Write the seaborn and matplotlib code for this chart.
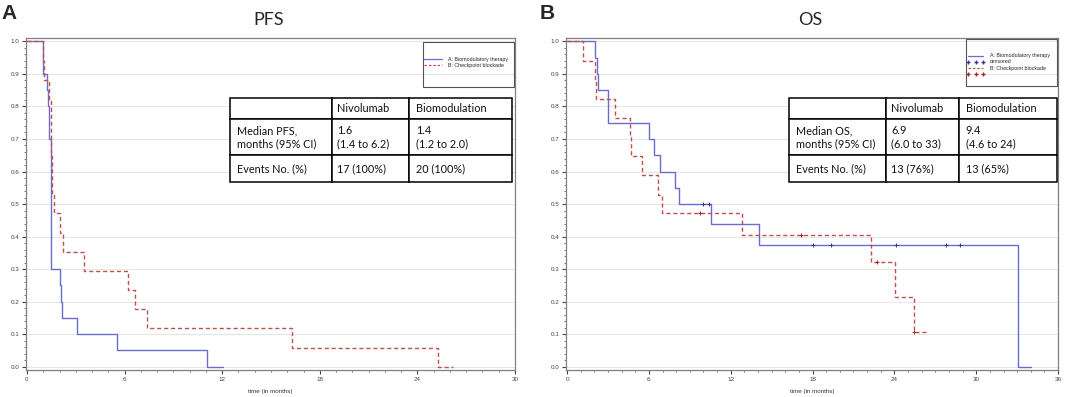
import numpy as np
import pandas as pd
import matplotlib
matplotlib.use('Agg')
import matplotlib.pyplot as plt
from matplotlib.lines import Line2D
from matplotlib.patches import Rectangle
from matplotlib.ticker import MultipleLocator
import seaborn as sns

# ---- data ----
# PFS, A: biomodulatory therapy (blue)
pfs_a_time = [0, 1.0, 1.22, 1.28, 1.33, 1.37, 1.45, 2.03, 2.08, 2.13, 3.05, 5.55, 11.05, 12.05]
pfs_a_surv = [1.0, 0.9, 0.85, 0.8, 0.75, 0.7, 0.3, 0.25, 0.2, 0.15, 0.1, 0.05, 0.0, 0.0]
# PFS, B: checkpoint blockade (red)
pfs_b_time = [0, 1.0, 1.05, 1.38, 1.45, 1.48, 1.5, 1.52, 1.56, 1.68, 2.0, 2.2, 3.5,
              6.2, 6.65, 7.35, 16.3, 25.25, 26.2]
pfs_b_surv = [1.0, 0.941, 0.882, 0.824, 0.765, 0.706, 0.647, 0.588, 0.529, 0.471, 0.412,
              0.353, 0.294, 0.235, 0.176, 0.118, 0.059, 0.0, 0.0]

# OS, A (blue)
os_a_time = [0, 2.08, 2.17, 2.24, 3.03, 6.03, 6.35, 6.81, 7.91, 8.23, 10.55, 14.08, 33.04, 34.0]
os_a_surv = [1.0, 0.95, 0.9, 0.85, 0.75, 0.7, 0.65, 0.6, 0.55, 0.5, 0.4375, 0.375, 0.0, 0.0]
os_a_cens_time = [9.94, 10.38, 18.0, 19.35, 24.12, 27.77, 28.8]
os_a_cens_surv = [0.5, 0.5, 0.375, 0.375, 0.375, 0.375, 0.375]
# OS, B (red)
os_b_time = [0, 1.15, 2.08, 2.13, 3.55, 4.65, 4.72, 5.51, 6.66, 6.95, 12.86, 22.26, 24.07, 25.44, 26.38]
os_b_surv = [1.0, 0.941, 0.882, 0.824, 0.765, 0.706, 0.647, 0.588, 0.529, 0.471, 0.4034,
             0.3227, 0.2151, 0.1076, 0.1076]
os_b_cens_time = [9.74, 17.17, 22.7, 25.44]
os_b_cens_surv = [0.471, 0.4034, 0.3227, 0.1076]

# summary tables
col_labels = ['', 'Nivolumab', 'Biomodulation']
pfs_table = [['Median PFS,\nmonths (95% CI)', '1.6\n(1.4 to 6.2)', '1.4\n(1.2 to 2.0)'],
             ['Events No. (%)', '17 (100%)', '20 (100%)']]
os_table = [['Median OS,\nmonths (95% CI)', '6.9\n(6.0 to 33)', '9.4\n(4.6 to 24)'],
            ['Events No. (%)', '13 (76%)', '13 (65%)']]

BLUE = '#6b6bd0'
RED = '#c0504d'
CALIBRI = ['Lato', 'DejaVu Sans']

sns.set_style('white')
plt.rcParams['font.family'] = ['Liberation Sans', 'DejaVu Sans']

fig = plt.figure(figsize=(10.79, 3.97), dpi=100)
ax_a = fig.add_axes([0.0241, 0.068, 0.4532, 0.836])
ax_b = fig.add_axes([0.5246, 0.068, 0.4560, 0.836])


def style_axes(ax, xmax):
    ax.set_xlim(-0.06 * xmax / 30, xmax)
    ax.set_ylim(-0.01, 1.01)
    ax.xaxis.set_major_locator(MultipleLocator(6))
    ax.xaxis.set_minor_locator(MultipleLocator(1))
    ax.yaxis.set_major_locator(MultipleLocator(0.1))
    ax.yaxis.set_minor_locator(MultipleLocator(0.02))
    ax.yaxis.set_major_formatter(matplotlib.ticker.FormatStrFormatter('%.1f'))
    ax.tick_params(axis='both', which='major', direction='out', length=3, width=0.8,
                   labelsize=4.5, colors='#444444', pad=2, bottom=True, left=True)
    ax.tick_params(axis='both', which='minor', direction='out', length=1.5, width=0.6,
                   colors='#666666', bottom=True, left=True)
    ax.grid(axis='y', which='major', color='#e6e6e6', linewidth=0.7)
    ax.set_axisbelow(True)
    for sp in ax.spines.values():
        sp.set_color('#808080')
        sp.set_linewidth(0.9)
    ax.set_xlabel('time (in months)', fontsize=4.5, color='#333333', labelpad=5)
    ax.set_ylabel('')


def draw_table(ax, rows, x0, x1):
    tab = ax.table(cellText=rows, colLabels=col_labels, cellLoc='left', colLoc='left',
                   colWidths=[0.362, 0.272, 0.366], bbox=[x0, 0.566, x1 - x0, 0.253],
                   zorder=5)
    tab.auto_set_font_size(False)
    heights = {0: 21, 1: 36, 2: 27}
    for (r, c), cell in tab.get_celld().items():
        cell.set_height(heights[r])
        cell.set_linewidth(1.1)
        cell.set_edgecolor('black')
        cell.set_facecolor('white')
        cell.PAD = 0.07
        cell.get_text().set_fontsize(7.8)
        cell.get_text().set_fontfamily(CALIBRI)
        cell.get_text().set_color('#111111')
        cell.get_text().set_ha('left')
    return tab


# ---- PFS ----
sns.lineplot(x=pfs_a_time, y=pfs_a_surv, ax=ax_a, color=BLUE, linewidth=1.0,
             drawstyle='steps-post', estimator=None, sort=False)
sns.lineplot(x=pfs_b_time, y=pfs_b_surv, ax=ax_a, color=RED, linewidth=1.0,
             linestyle=(0, (3, 2)), drawstyle='steps-post', estimator=None, sort=False)
style_axes(ax_a, 30)
draw_table(ax_a, pfs_table, 0.417, 0.994)
ax_a.add_patch(Rectangle((0.812, 0.852), 0.186, 0.136, transform=ax_a.transAxes,
                         fill=False, edgecolor='#555555', linewidth=0.8, zorder=6))
ax_a.legend(handles=[Line2D([], [], color=BLUE, lw=0.9),
                     Line2D([], [], color=RED, lw=0.9, ls=(0, (2, 1.5)))],
            labels=['A: Biomodulatory therapy', 'B: Checkpoint blockade'],
            loc='upper left', bbox_to_anchor=(0.806, 0.955), frameon=False,
            fontsize=3.8, handlelength=3.5, handletextpad=1.0, labelspacing=0.2,
            borderpad=0.2)

# ---- OS ----
sns.lineplot(x=os_a_time, y=os_a_surv, ax=ax_b, color=BLUE, linewidth=1.0,
             drawstyle='steps-post', estimator=None, sort=False)
sns.lineplot(x=os_b_time, y=os_b_surv, ax=ax_b, color=RED, linewidth=1.0,
             linestyle=(0, (3, 2)), drawstyle='steps-post', estimator=None, sort=False)
sns.scatterplot(x=os_a_cens_time, y=os_a_cens_surv, ax=ax_b, marker='+', color='#3333aa',
                s=10, linewidth=0.7, zorder=4)
sns.scatterplot(x=os_b_cens_time, y=os_b_cens_surv, ax=ax_b, marker='+', color='#aa2222',
                s=10, linewidth=0.7, zorder=4)
style_axes(ax_b, 36)
draw_table(ax_b, os_table, 0.453, 0.998)
ax_b.add_patch(Rectangle((0.813, 0.855), 0.185, 0.142, transform=ax_b.transAxes,
                         fill=False, edgecolor='#555555', linewidth=0.8, zorder=6))
ax_b.legend(handles=[Line2D([], [], color=BLUE, lw=0.9),
                     Line2D([], [], color='#3333aa', lw=0, marker='+', markersize=2.5),
                     Line2D([], [], color=RED, lw=0.9, ls=(0, (2, 1.5))),
                     Line2D([], [], color='#aa2222', lw=0, marker='+', markersize=2.5)],
            labels=['A: Biomodulatory therapy', 'censored', 'B: Checkpoint blockade', ''],
            loc='upper left', bbox_to_anchor=(0.806, 0.965), frameon=False,
            fontsize=3.8, handlelength=3.5, handletextpad=1.0, labelspacing=0.2,
            borderpad=0.2, numpoints=3)

# titles and panel letters
fig.text(0.249, 0.95, 'PFS', ha='center', va='center', fontsize=13, family=CALIBRI)
fig.text(0.751, 0.95, 'OS', ha='center', va='center', fontsize=13, family=CALIBRI)
fig.text(0.001, 0.965, 'A', ha='left', va='center', fontsize=15, fontweight='bold',
         family=['Liberation Sans', 'DejaVu Sans'])
fig.text(0.5005, 0.965, 'B', ha='left', va='center', fontsize=15, fontweight='bold',
         family=['Liberation Sans', 'DejaVu Sans'])

fig.savefig('out.png', dpi=100)
